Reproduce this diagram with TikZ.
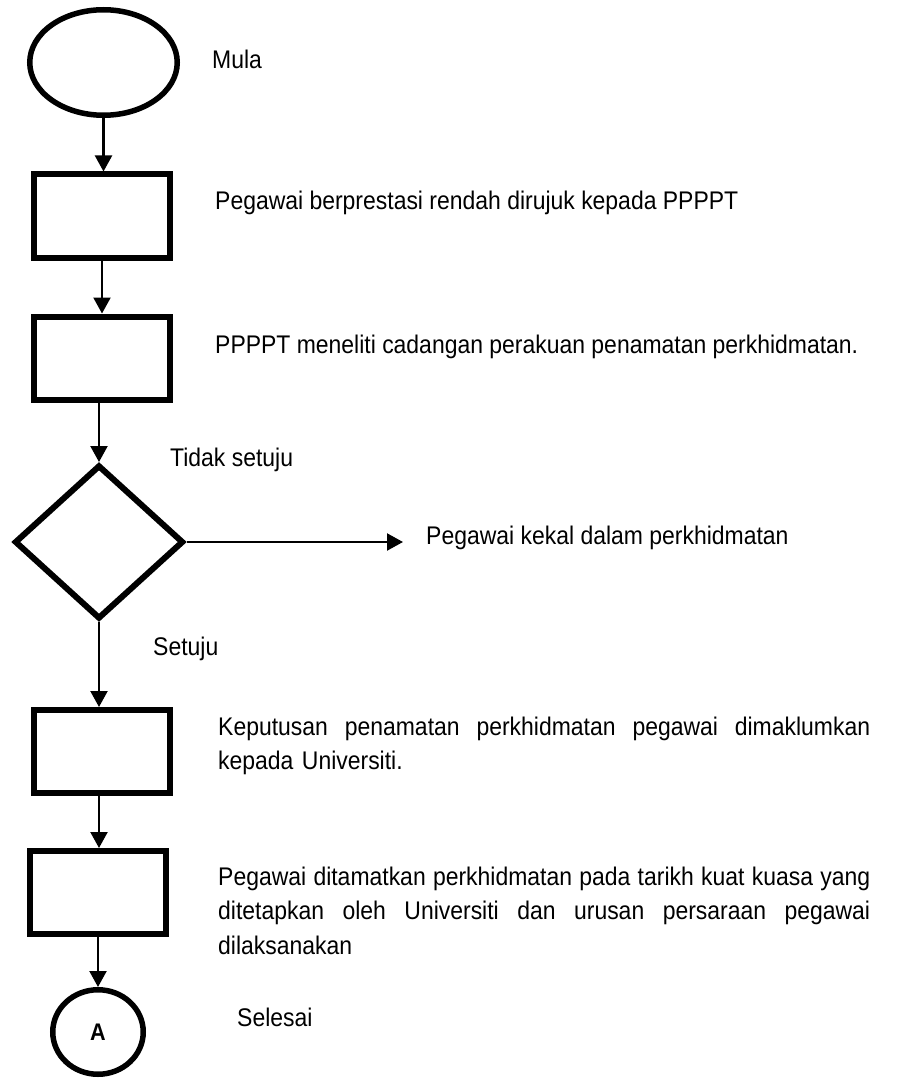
\documentclass[tikz,border=0pt]{standalone}
\usepackage{fontspec}
\setmainfont{Liberation Sans}[FakeStretch=0.9]
\usetikzlibrary{shapes.geometric,arrows.meta}
\newcommand{\jline}[1]{\leavevmode\hbox to 652pt{#1}}
\begin{document}
\begin{tikzpicture}[x=1pt,y=1pt,
  box/.style={draw, line width=6pt, minimum width=136pt, minimum height=83pt, inner sep=0pt},
  conn/.style={line width=2.2pt, -{Triangle[width=17pt,length=16pt]}},
  lbl/.style={anchor=base west, inner sep=0pt, font=\fontsize{25.5}{34.5}\selectfont},
  para/.style={lbl, text width=652pt, align=left}]
\useasboundingbox (0,0) rectangle (897,-1078);
% shapes
\node[draw, ellipse, line width=5.5pt, minimum width=147.5pt, minimum height=105.5pt, inner sep=0pt] (start) at (103.5,-62.5) {};
\node[box] (r1) at (102,-216) {};
\node[box] (r2) at (102,-358) {};
\node[draw, diamond, line width=6pt, minimum width=169pt, minimum height=154pt, inner sep=0pt] (d) at (99,-542) {};
\node[box] (r3) at (102,-751.5) {};
\node[box] (r4) at (97.5,-892.5) {};
\node[draw, ellipse, line width=5.5pt, minimum width=90.5pt, minimum height=84.5pt, inner sep=0pt, font=\bfseries\fontsize{24}{24}\selectfont] (end) at (98,-1032) {A};
\coordinate (kk) at (403,-542);
% connectors
\draw[conn] (start.south) -- (start.south |- r1.north);
\draw[conn] (r1.south) -- (r2.north);
\draw[conn] (r2.south -| d.north) -- (d.north);
\draw[conn] (d.east) -- (kk);
\draw[conn] (d.south) -- (d.south |- r3.north);
\draw[conn] (r3.south -| d.south) -- (r4.north -| d.south);
\draw[conn] (r4.south -| end.north) -- (end.north);
% labels
\node[lbl] (t0) at (212,-69) {Mula};
\node[lbl] (t1) at (215,-209) {Pegawai berprestasi rendah dirujuk kepada PPPPT};
\node[lbl] (t2) at (215,-353) {PPPPT meneliti cadangan perakuan penamatan perkhidmatan.};
\node[lbl] (t3) at (170,-466) {Tidak setuju};
\node[lbl] (t4) at (426,-544) {Pegawai kekal dalam perkhidmatan};
\node[lbl] (t5) at (153,-655) {Setuju};
\node[para] (t6) at (218,-735) {\jline{Keputusan\hfill penamatan\hfill perkhidmatan\hfill pegawai\hfill dimaklumkan}\\kepada Universiti.};
\node[para] (t7) at (218,-885) {\jline{Pegawai\hfill ditamatkan\hfill perkhidmatan\hfill pada\hfill tarikh\hfill kuat\hfill kuasa\hfill yang}\\\jline{ditetapkan\hfill oleh\hfill Universiti\hfill dan\hfill urusan\hfill persaraan\hfill pegawai}\\dilaksanakan};
\node[lbl] (t8) at (237,-1026) {Selesai};
\end{tikzpicture}
\end{document}
